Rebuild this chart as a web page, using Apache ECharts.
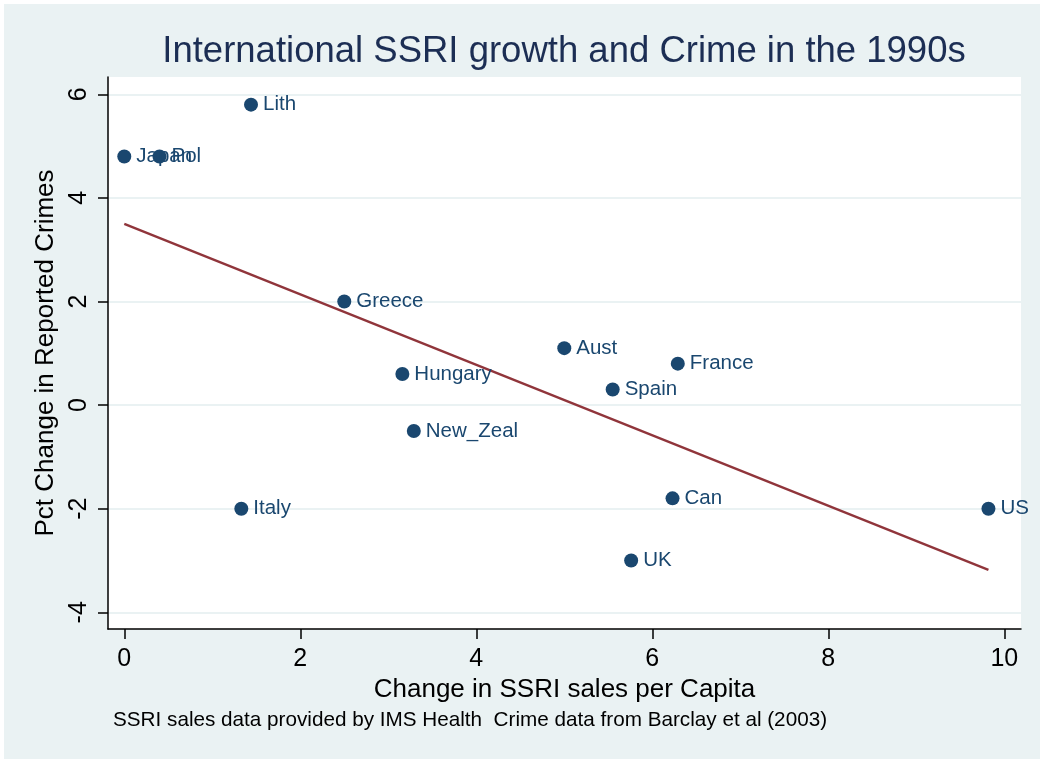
<!DOCTYPE html>
<html>
<head>
<meta charset="utf-8">
<script src="https://cdn.jsdelivr.net/npm/echarts@6/dist/echarts.min.js"></script>
<style>
html,body{margin:0;padding:0;background:#ffffff;}
#chart{width:1040px;height:759px;}
</style>
</head>
<body>
<div id="chart"></div>
<script>
// Data
var countries = ['Japan','Pol','Lith','Greece','Hungary','New_Zeal','Italy','Aust','Spain','France','Can','UK','US'];
var ssriChange = [0, 0.40, 1.44, 2.50, 3.16, 3.29, 1.33, 5.00, 5.55, 6.29, 6.23, 5.76, 9.82];
var crimeChange = [4.8, 4.8, 5.8, 2.0, 0.6, -0.5, -2.0, 1.1, 0.3, 0.8, -1.8, -3.0, -2.0];
var fitX = [0, 9.82];
var fitY = [3.5, -3.18];
var xTicks = [0, 2, 4, 6, 8, 10];
var yTicks = [-4, -2, 0, 2, 4, 6];

var points = countries.map(function (c, i) { return [ssriChange[i], crimeChange[i], c]; });
var fitLine = fitX.map(function (x, i) { return [x, fitY[i]]; });

var chart = echarts.init(document.getElementById('chart'), null, {renderer: 'canvas'});
var FONT = '"Liberation Sans", Arial, Helvetica, sans-serif';
var option = {
  animation: false,
  backgroundColor: '#ffffff',
  textStyle: {fontFamily: FONT},
  graphic: [{
    type: 'rect', z: -10, silent: true,
    shape: {x: 4, y: 4, width: 1036, height: 755},
    style: {fill: '#eaf2f3'}
  }, {
    type: 'text', x: 564, y: 52, z: 10,
    style: {text: 'International SSRI growth and Crime in the 1990s',
            fill: '#1c2e54', font: '36.5px ' + FONT, textAlign: 'center', textVerticalAlign: 'middle'}
  }, {
    type: 'text', x: 113, y: 720, z: 10,
    style: {text: 'SSRI sales data provided by IMS Health  Crime data from Barclay et al (2003)',
            fill: '#000000', font: '20.7px ' + FONT, textVerticalAlign: 'middle'}
  }],
  grid: {
    left: 108, top: 77, right: 19, bottom: 130,
    show: true, backgroundColor: '#ffffff', borderWidth: 0
  },
  xAxis: {
    type: 'value', min: -0.185, max: 10.19,
    name: 'Change in SSRI sales per Capita',
    nameLocation: 'middle', nameGap: 43,
    nameTextStyle: {color: '#000', fontSize: 26, fontFamily: FONT},
    axisLine: {show: true, onZero: false, lineStyle: {color: '#000', width: 1.5}},
    axisTick: {show: true, length: 10, customValues: xTicks, lineStyle: {color: '#000', width: 1.5}},
    axisLabel: {customValues: xTicks, color: '#000', fontSize: 25, margin: 18, fontFamily: FONT},
    splitLine: {show: false}
  },
  yAxis: {
    type: 'value', min: -4.322, max: 6.334,
    name: 'Pct Change in Reported Crimes',
    nameLocation: 'middle', nameGap: 39,
    nameTextStyle: {color: '#000', fontSize: 26, fontFamily: FONT},
    axisLine: {show: true, onZero: false, lineStyle: {color: '#000', width: 1.5}},
    axisTick: {show: true, length: 10, customValues: yTicks, lineStyle: {color: '#000', width: 1.5}},
    axisLabel: {customValues: yTicks, rotate: 90, color: '#000', fontSize: 25, margin: 16, fontFamily: FONT},
    splitLine: {show: true, lineStyle: {color: '#eaf2f3', width: 2}}
  },
  series: [{
    type: 'line',
    data: fitLine,
    showSymbol: false,
    symbol: 'none',
    lineStyle: {color: '#90353b', width: 2.4},
    z: 2
  }, {
    type: 'scatter',
    data: points,
    symbol: 'circle',
    symbolSize: 14,
    itemStyle: {color: '#1a476f', opacity: 1},
    label: {
      show: true, position: 'right', distance: 5,
      formatter: function (p) { return p.value[2]; },
      color: '#1a476f', fontSize: 20.5, fontFamily: FONT
    },
    z: 3
  }]
};
chart.setOption(option);
</script>
</body>
</html>
